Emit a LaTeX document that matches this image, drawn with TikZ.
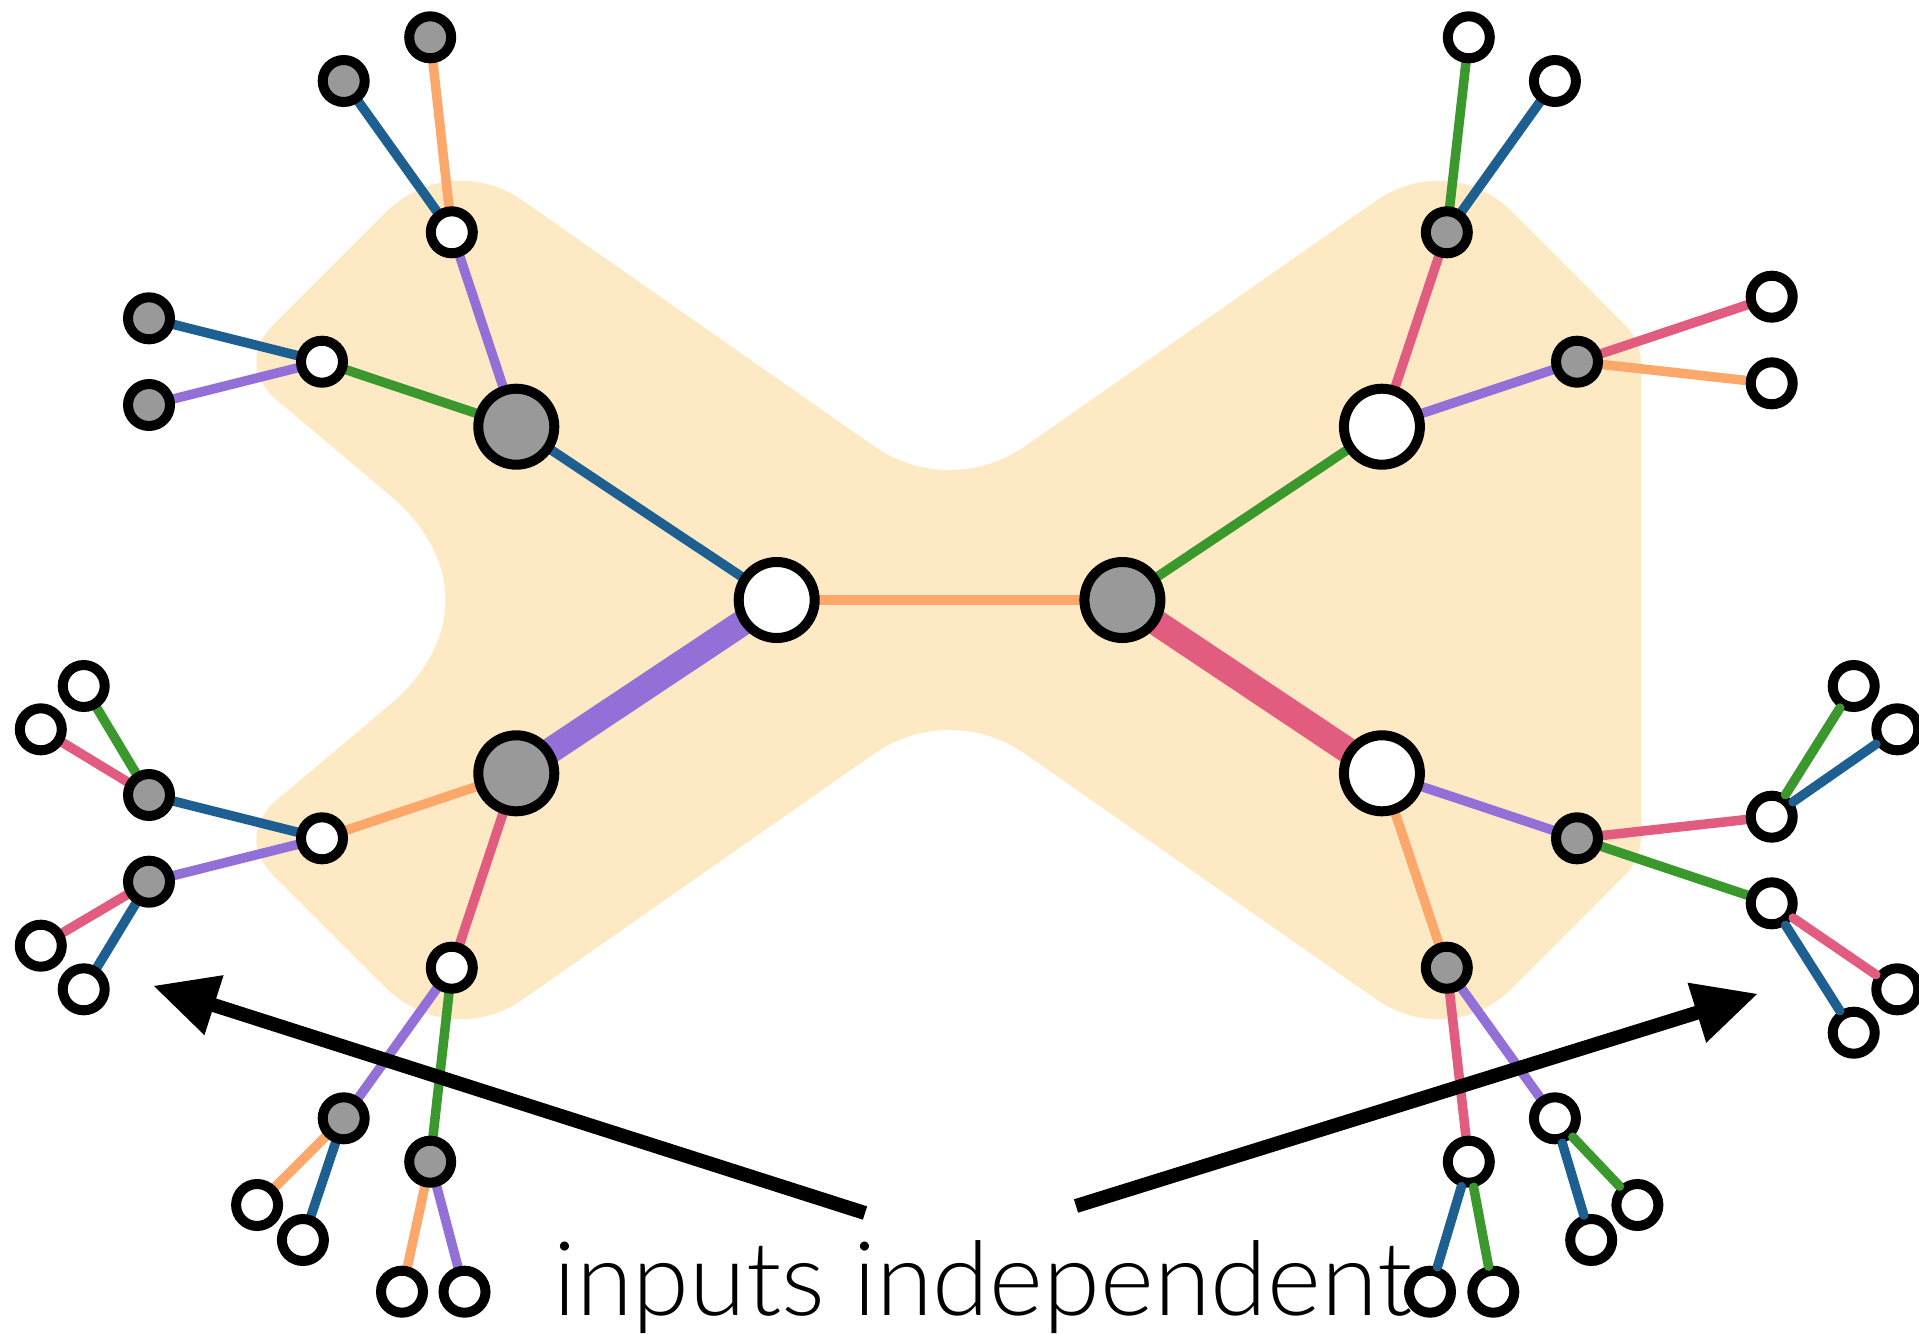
\documentclass[tikz,border=0pt]{standalone}
\usepackage{fontspec}
\setmainfont{Lato Light}
\usetikzlibrary{calc}
\pgfdeclarelayer{blob}
\pgfdeclarelayer{edges}
\pgfsetlayers{blob,edges,main}
\definecolor{cblob}{RGB}{254,233,197}
\definecolor{cblue}{RGB}{30,95,145}
\definecolor{corange}{RGB}{253,168,107}
\definecolor{cpurple}{RGB}{147,112,216}
\definecolor{cgreen}{RGB}{58,152,44}
\definecolor{cpink}{RGB}{225,92,127}
\definecolor{cgray}{RGB}{153,153,153}
\tikzset{
  smallnode/.style={circle, draw=black, line width=10pt, minimum size=42pt, inner sep=0pt},
  sw/.style={smallnode, fill=white},
  sg/.style={smallnode, fill=cgray},
  bignode/.style={circle, draw=black, line width=10pt, minimum size=76pt, inner sep=0pt},
  bw/.style={bignode, fill=white},
  bgr/.style={bignode, fill=cgray},
  thin/.style={line width=9.5pt},
  fat/.style={line width=26pt},
  eblue/.style={thin, draw=cblue},
  eorange/.style={thin, draw=corange},
  epurple/.style={thin, draw=cpurple},
  egreen/.style={thin, draw=cgreen},
  epink/.style={thin, draw=cpink},
  topedge/.style={line cap=round},
}
\begin{document}
\begin{tikzpicture}[x=1pt, y=-1pt]
\useasboundingbox (0,0) rectangle (1919,1333);

% ---------- blob ----------
\coordinate (P1) at (449,149);    \coordinate (a1) at (384.7,213.3);  \coordinate (b1) at (523.6,201.2);
\coordinate (P2) at (949.5,499);  \coordinate (a2) at (874.1,446.3);  \coordinate (b2) at (1024.9,446.3);
\coordinate (P3) at (1450,149);   \coordinate (a3) at (1375.4,201.2); \coordinate (b3) at (1514.2,213.5);
\coordinate (P4) at (1641,341);   \coordinate (a4) at (1625.5,325.4); \coordinate (b4) at (1641,363);
\coordinate (P5) at (1641,859);   \coordinate (a5) at (1641,837);     \coordinate (b5) at (1625.5,874.6);
\coordinate (P6) at (1450,1051);  \coordinate (a6) at (1514.2,986.5); \coordinate (b6) at (1375.4,998.8);
\coordinate (P7) at (949.5,701);  \coordinate (a7) at (1024.9,753.7); \coordinate (b7) at (874.1,753.7);
\coordinate (P8) at (449,1051);   \coordinate (a8) at (523.6,998.8);  \coordinate (b8) at (384.7,986.7);
\coordinate (P9) at (234,836);    \coordinate (a9) at (272.9,874.9);  \coordinate (b9) at (276.1,800.6);
\coordinate (P10) at (514,600);   \coordinate (a10) at (389.4,705.1); \coordinate (b10) at (389.4,494.9);
\coordinate (P11) at (234,364);   \coordinate (a11) at (276.1,399.4); \coordinate (b11) at (272.9,325.1);
\begin{pgfonlayer}{blob}
\fill[cblob] (b11)
  \foreach \i in {1,...,11} {
    -- (a\i) .. controls ($(a\i)!.6!(P\i)$) and ($(b\i)!.6!(P\i)$) .. (b\i)
  } -- cycle;
\end{pgfonlayer}

% ---------- nodes ----------
\node[bw]  (c1) at (776.7,600) {};
\node[bgr] (c2) at (1122.4,600) {};
\node[bgr] (l1) at (516.3,426.7) {};
\node[bgr] (l2) at (516.3,773.3) {};
\node[bw]  (r1) at (1381.9,426.7) {};
\node[bw]  (r2) at (1381.9,773.3) {};

\node[sw] (w1) at (451.8,232.3) {};
\node[sg] (a0) at (430.2,37.3) {};
\node[sg] (aa) at (343.7,81) {};
\node[sw] (w2) at (322,361.7) {};
\node[sg] (g1) at (149,318.3) {};
\node[sg] (g2) at (149,405) {};
\node[sw] (w3) at (322,838.3) {};
\node[sg] (g3) at (149,795) {};
\node[sg] (g4) at (149,881.7) {};
\node[sw] (g3a) at (83.7,686) {};
\node[sw] (g3b) at (40.8,729.3) {};
\node[sw] (g4a) at (40.8,945.7) {};
\node[sw] (g4b) at (83.7,989.3) {};
\node[sw] (w4) at (451.8,967.7) {};
\node[sg] (g5) at (343.7,1118.3) {};
\node[sg] (g6) at (430.2,1161.7) {};
\node[sw] (g5a) at (257.1,1205) {};
\node[sw] (g5b) at (302.9,1240) {};
\node[sw] (g6a) at (402,1291.7) {};
\node[sw] (g6b) at (464.5,1291.7) {};

\node[sg] (h1) at (1446.8,232.3) {};
\node[sw] (h1a) at (1468.8,37.3) {};
\node[sw] (h1b) at (1554.9,81) {};
\node[sg] (h2) at (1577,361.7) {};
\node[sw] (h2a) at (1771.7,296.7) {};
\node[sw] (h2b) at (1771.7,383.3) {};
\node[sg] (h3) at (1577,838.3) {};
\node[sw] (h3a) at (1771.7,816.7) {};
\node[sw] (h3b) at (1771.7,903.3) {};
\node[sw] (h3aa) at (1853.7,686) {};
\node[sw] (h3ab) at (1897.3,729.3) {};
\node[sw] (h3ba) at (1897.3,989.3) {};
\node[sw] (h3bb) at (1853.7,1032.7) {};
\node[sg] (h4) at (1446.8,967.7) {};
\node[sw] (h4a) at (1468.8,1161.7) {};
\node[sw] (h4b) at (1554.9,1118.3) {};
\node[sw] (h4aa) at (1430,1291.7) {};
\node[sw] (h4ab) at (1493.3,1291.7) {};
\node[sw] (h4ba) at (1591.2,1240) {};
\node[sw] (h4bb) at (1637.4,1205) {};

% ---------- edges (behind nodes) ----------
\begin{pgfonlayer}{edges}
\draw[eorange] (a0.center) -- (w1.center);
\draw[eblue]   (aa.center) -- (w1.center);
\draw[epurple] (w1.center) -- (l1.center);
\draw[eblue]   (g1.center) -- (w2.center);
\draw[epurple] (g2.center) -- (w2.center);
\draw[egreen]  (w2.center) -- (l1.center);
\draw[eblue]   (l1.center) -- (c1.center);
\draw[eorange] (c1.center) -- (c2.center);
\draw[fat, draw=cpurple] (c1.center) -- (l2.center);
\draw[eorange] (l2.center) -- (w3.center);
\draw[eblue]   (w3.center) -- (g3.center);
\draw[epurple] (w3.center) -- (g4.center);
\draw[egreen]  (g3.center) -- (g3a.center);
\draw[epink]   (g3.center) -- (g3b.center);
\draw[epink]   (g4.center) -- (g4a.center);
\draw[eblue]   (g4.center) -- (g4b.center);
\draw[epink]   (l2.center) -- (w4.center);
\draw[epurple] (w4.center) -- (g5.center);
\draw[egreen]  (w4.center) -- (g6.center);
\draw[eorange] (g5.center) -- (g5a.center);
\draw[eblue]   (g5.center) -- (g5b.center);
\draw[eorange] (g6.center) -- (g6a.center);
\draw[epurple] (g6.center) -- (g6b.center);

\draw[egreen]  (c2.center) -- (r1.center);
\draw[fat, draw=cpink] (c2.center) -- (r2.center);
\draw[epink]   (r1.center) -- (h1.center);
\draw[egreen]  (h1.center) -- (h1a.center);
\draw[eblue]   (h1.center) -- (h1b.center);
\draw[epurple] (r1.center) -- (h2.center);
\draw[epink]   (h2.center) -- (h2a.center);
\draw[eorange] (h2.center) -- (h2b.center);
\draw[epurple] (r2.center) -- (h3.center);
\draw[epink]   (h3.center) -- (h3a.center);
\draw[egreen]  (h3.center) -- (h3b.center);
\draw[eorange] (r2.center) -- (h4.center);
\draw[epink]   (h4.center) -- (h4a.center);
\draw[epurple] (h4.center) -- (h4b.center);
\end{pgfonlayer}

% ---------- outer edges drawn over the rings ----------
\draw[egreen, topedge] (h3a) -- (h3aa);
\draw[eblue,  topedge] (h3a) -- (h3ab);
\draw[epink,  topedge] (h3b) -- (h3ba);
\draw[eblue,  topedge] (h3b) -- (h3bb);
\draw[eblue,  topedge] (h4a) -- (h4aa);
\draw[egreen, topedge] (h4a) -- (h4ab);
\draw[eblue,  topedge] (h4b) -- (h4ba);
\draw[egreen, topedge] (h4b) -- (h4bb);

% ---------- arrows ----------
\coordinate (lt) at (865,1213);
\coordinate (lh) at (154,986);
\coordinate (rt) at (1076,1206);
\coordinate (rh) at (1757,994);
\coordinate (lb) at ($(lh)!63pt!(lt)$);
\coordinate (rb) at ($(rh)!63pt!(rt)$);
\draw[line width=14pt] (lt) -- ($(lh)!55pt!(lt)$);
\fill (lh) -- ($(lb)!31.5pt!90:(lt)$) -- ($(lb)!31.5pt!-90:(lt)$) -- cycle;
\draw[line width=14pt] (rt) -- ($(rh)!55pt!(rt)$);
\fill (rh) -- ($(rb)!31.5pt!90:(rt)$) -- ($(rb)!31.5pt!-90:(rt)$) -- cycle;

% ---------- label ----------
\node[anchor=base west, inner sep=0pt, font=\fontsize{103}{124}\selectfont] (lbl) at (553,1315) {inputs independent};
\end{tikzpicture}
\end{document}
